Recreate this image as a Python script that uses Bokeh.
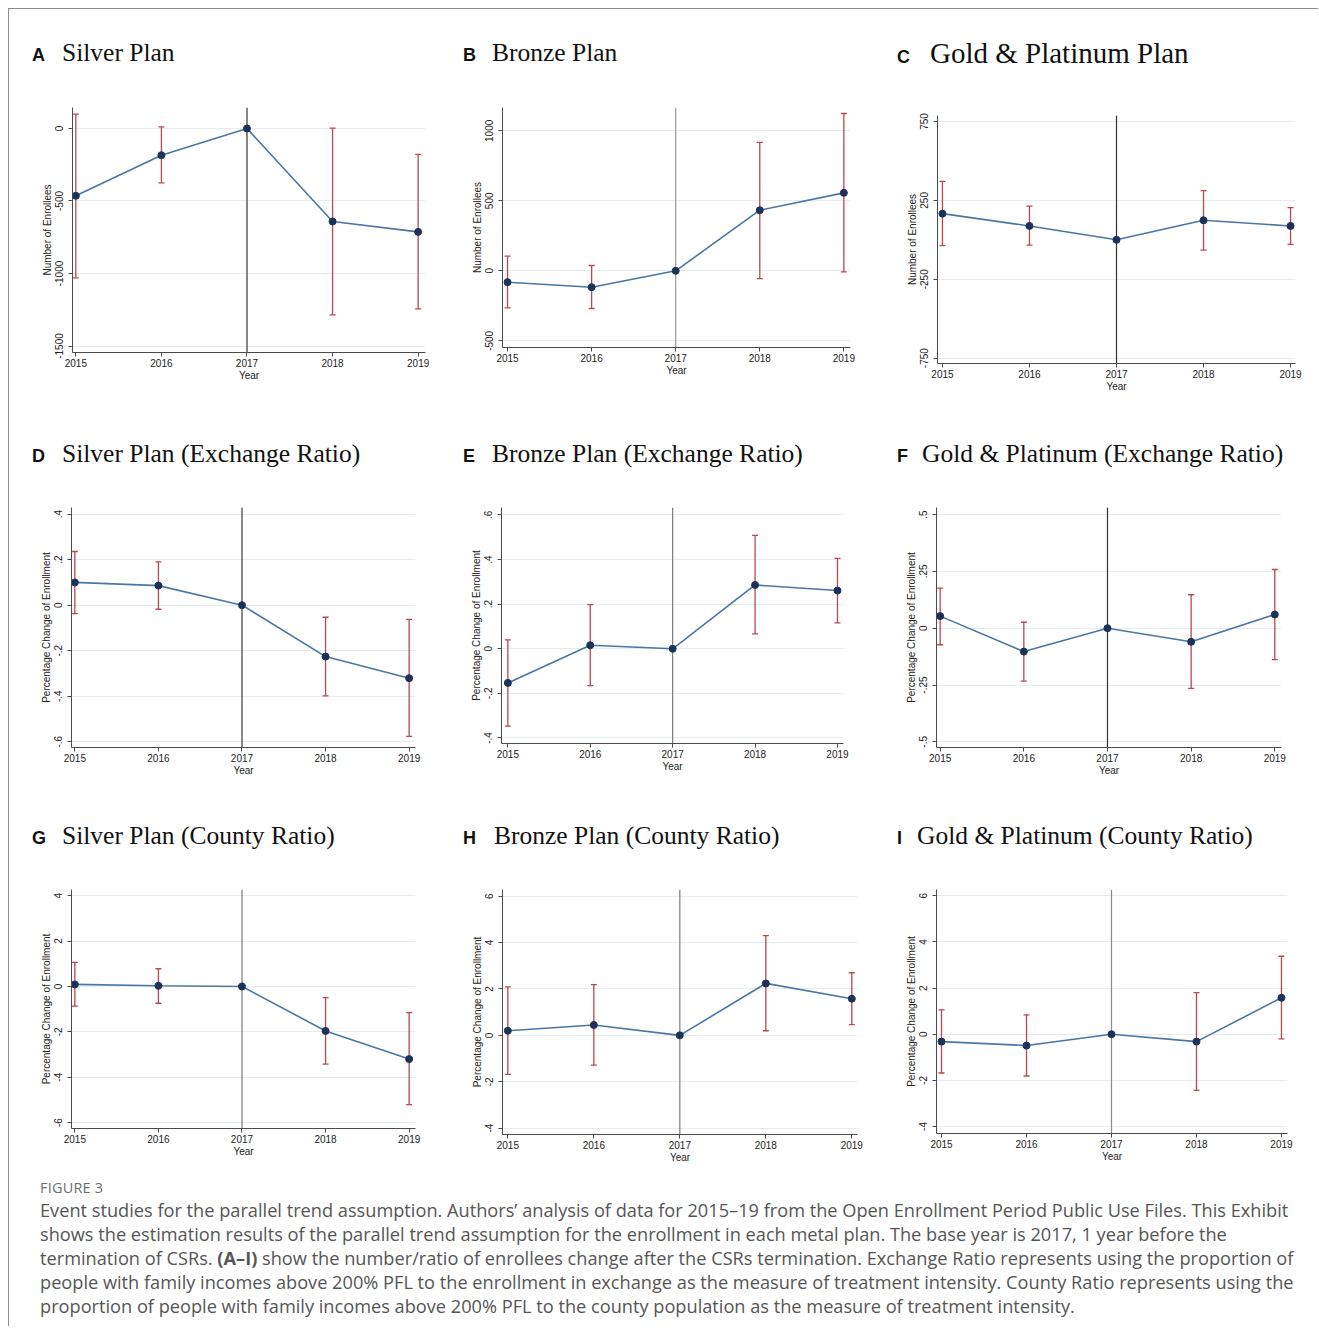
from bokeh.plotting import figure
from bokeh.models import FixedTicker, Span, Div, Range1d
from bokeh.layouts import row, column
from bokeh.embed import file_html
from bokeh.resources import INLINE

# ---------------- data ----------------
years = [2015, 2016, 2017, 2018, 2019]
year_labels = ["2015", "2016", "2017", "2018", "2019"]

a_est = [-464, -184, 0, -641, -713]
a_lo = [-1030, -375, None, -1285, -1244]
a_hi = [99, 11, None, 2, -179]
a_ticks = [-1500, -1000, -500, 0]
a_tick_labels = ["-1500", "-1000", "-500", "0"]

b_est = [-81, -117, 0, 433, 557]
b_lo = [-264, -269, None, -55, -7]
b_hi = [105, 38, None, 917, 1124]
b_ticks = [-500, 0, 500, 1000]
b_tick_labels = ["-500", "0", "500", "1000"]

c_est = [166, 88, 0, 124, 88]
c_lo = [-37, -33, None, -65, -29]
c_hi = [371, 213, None, 312, 204]
c_ticks = [-750, -250, 250, 750]
c_tick_labels = ["-750", "-250", "250", "750"]

d_est = [0.100, 0.086, 0, -0.226, -0.321]
d_lo = [-0.037, -0.018, None, -0.399, -0.577]
d_hi = [0.236, 0.190, None, -0.053, -0.062]
d_ticks = [-0.6, -0.4, -0.2, 0, 0.2, 0.4]
d_tick_labels = ["-.6", "-.4", "-.2", "0", ".2", ".4"]

e_est = [-0.153, 0.016, 0, 0.286, 0.261]
e_lo = [-0.347, -0.165, None, 0.067, 0.116]
e_hi = [0.040, 0.198, None, 0.508, 0.405]
e_ticks = [-0.4, -0.2, 0, 0.2, 0.4, 0.6]
e_tick_labels = ["-.4", "-.2", "0", ".2", ".4", ".6"]

f_est = [0.053, -0.103, 0, -0.060, 0.060]
f_lo = [-0.073, -0.233, None, -0.265, -0.138]
f_hi = [0.176, 0.026, None, 0.147, 0.258]
f_ticks = [-0.5, -0.25, 0, 0.25, 0.5]
f_tick_labels = ["-.5", "-.25", "0", ".25", ".5"]

g_est = [0.09, 0.03, 0, -1.96, -3.20]
g_lo = [-0.87, -0.74, None, -3.42, -5.21]
g_hi = [1.06, 0.78, None, -0.49, -1.15]
g_ticks = [-6, -4, -2, 0, 2, 4]
g_tick_labels = ["-6", "-4", "-2", "0", "2", "4"]

h_est = [0.20, 0.45, 0, 2.24, 1.58]
h_lo = [-1.68, -1.28, None, 0.20, 0.46]
h_hi = [2.09, 2.19, None, 4.30, 2.70]
h_ticks = [-4, -2, 0, 2, 4, 6]
h_tick_labels = ["-4", "-2", "0", "2", "4", "6"]

i_est = [-0.32, -0.49, 0, -0.32, 1.58]
i_lo = [-1.68, -1.81, None, -2.43, -0.20]
i_hi = [1.06, 0.84, None, 1.80, 3.38]
i_ticks = [-4, -2, 0, 2, 4, 6]
i_tick_labels = ["-4", "-2", "0", "2", "4", "6"]

ylab_n = "Number of Enrollees"
ylab_p = "Percentage Change of Enrollment"

# ---------------- styles ----------------
LINE = "#4a76a6"
DOT = "#1b3358"
CI = "#b9484f"
GRID = "#e4eef0"
AXIS = "#4a4a4a"
SANS = "Liberation Sans"

panels = [
    # letter, title, est, lo, hi, ticks, labels, ylabel, xr, yr, (left,right,top,bottom), width, height, vline color
    ("A", "Silver Plan", a_est, a_lo, a_hi, a_ticks, a_tick_labels, ylab_n,
     (2014.961, 2019.086), (-1544.8, 144.8), (63, 21, 16, 49), 437, 310, "#333333"),
    ("B", "Bronze Plan", b_est, b_lo, b_hi, b_ticks, b_tick_labels, ylab_n,
     (2014.940, 2019.079), (-547.6, 1166.7), (56, 33, 16, 54), 437, 310, "#9a9a9a"),
    ("C", "Gold &amp; Platinum Plan", c_est, c_lo, c_hi, c_ticks, c_tick_labels, ylab_n,
     (2014.943, 2019.057), (-783.8, 788.0), (54, 23, 24, 38), 435, 310, "#333333"),
    ("D", "Silver Plan (Exchange Ratio)", d_est, d_lo, d_hi, d_ticks, d_tick_labels, ylab_p,
     (2014.960, 2019.076), (-0.6256, 0.4293), (62, 31, 16, 39), 437, 295, "#3a3a3a"),
    ("E", "Bronze Plan (Exchange Ratio)", e_est, e_lo, e_hi, e_ticks, e_tick_labels, ylab_p,
     (2014.923, 2019.073), (-0.4247, 0.6334), (55, 40, 16, 43), 437, 295, "#7a7a7a"),
    ("F", "Gold &amp; Platinum (Exchange Ratio)", f_est, f_lo, f_hi, f_ticks, f_tick_labels, ylab_p,
     (2014.956, 2019.080), (-0.5249, 0.5308), (53, 37, 16, 39), 435, 295, "#333333"),
    ("G", "Silver Plan (County Ratio)", g_est, g_lo, g_hi, g_ticks, g_tick_labels, ylab_p,
     (2014.960, 2019.076), (-6.259, 4.271), (62, 31, 18, 38), 437, 295, "#7a7a7a"),
    ("H", "Bronze Plan (County Ratio)", h_est, h_lo, h_hi, h_ticks, h_tick_labels, ylab_p,
     (2014.938, 2019.066), (-4.273, 6.288), (56, 26, 18, 32), 437, 295, "#7a7a7a"),
    ("I", "Gold &amp; Platinum (County Ratio)", i_est, i_lo, i_hi, i_ticks, i_tick_labels, ylab_p,
     (2014.941, 2019.071), (-4.304, 6.275), (53, 31, 18, 33), 435, 295, "#8a8a8a"),
]

# title div settings per row / column
title_heights = [82, 90, 85]
title_pad_top = [29, 38, 35]
col_pad_left = [23, 17, 14]
letter_widths = {"A": 30, "B": 29, "C": 33, "D": 30, "E": 29, "F": 25, "G": 30, "H": 31, "I": 20}
title_sizes = {"C": 29}


def make_fig(cfg):
    (letter, title, est, lo, hi, ticks, tlabels, ylabel, xr, yr, borders, w, h, vcol) = cfg
    bl, br, bt, bb = borders
    p = figure(width=w, height=h, output_backend="svg", toolbar_location=None,
               x_range=Range1d(*xr), y_range=Range1d(*yr),
               min_border_left=bl, min_border_right=br, min_border_top=bt, min_border_bottom=bb,
               background_fill_color="white", border_fill_color="white")
    p.outline_line_color = None
    p.xgrid.visible = False
    p.ygrid.ticker = FixedTicker(ticks=ticks)
    p.ygrid.grid_line_color = GRID
    p.ygrid.grid_line_width = 1

    # axes
    p.xaxis.ticker = FixedTicker(ticks=years)
    p.xaxis.major_label_overrides = {y: l for y, l in zip(years, year_labels)}
    p.xaxis.axis_label = "Year"
    p.yaxis.ticker = FixedTicker(ticks=ticks)
    p.yaxis.major_label_overrides = {t: l for t, l in zip(ticks, tlabels)}
    p.yaxis.axis_label = ylabel
    p.yaxis.major_label_orientation = "vertical"
    p.xaxis.major_label_standoff = 2
    p.yaxis.major_label_standoff = 5
    for ax in (p.xaxis, p.yaxis):
        ax.axis_line_color = AXIS
        ax.major_tick_line_color = AXIS
        ax.major_tick_in = 0
        ax.major_tick_out = 4
        ax.minor_tick_line_color = None
        ax.major_label_text_font = SANS
        ax.major_label_text_font_size = "10px"
        ax.major_label_text_color = "#222222"
        ax.axis_label_text_font = SANS
        ax.axis_label_text_font_size = "10px"
        ax.axis_label_text_font_style = "normal"
        ax.axis_label_text_color = "#222222"
        ax.axis_label_standoff = 0

    p.add_layout(Span(location=2017, dimension="height", line_color=vcol,
                      line_width=1.2, level="underlay"))

    cx = [y for y, l in zip(years, lo) if l is not None]
    clo = [l for l in lo if l is not None]
    chi = [u for u in hi if u is not None]
    p.segment(x0=cx, y0=clo, x1=cx, y1=chi, line_color=CI, line_width=1.3)
    p.scatter(cx, clo, marker="dash", size=6, line_color=CI, line_width=1.3)
    p.scatter(cx, chi, marker="dash", size=6, line_color=CI, line_width=1.3)

    p.line(years, est, line_color=LINE, line_width=1.6)
    p.scatter(years, est, size=7, fill_color=DOT, line_color=DOT)
    return p


def make_title(cfg, ri, ci):
    letter, title = cfg[0], cfg[1]
    w = cfg[11]
    fs = title_sizes.get(letter, 25.5)
    html = (
        f'<div style="padding:{title_pad_top[ri]}px 0 0 {col_pad_left[ci]}px; line-height:30px; '
        f'white-space:nowrap; font-family:\'Liberation Serif\', serif; font-size:{fs}px; color:#111111;">'
        f'<span style="display:inline-block; width:{letter_widths[letter]}px; '
        f'font-family:\'Liberation Sans\', sans-serif; font-weight:bold; font-size:18px;">{letter}</span>'
        f'{title}</div>'
    )
    return Div(text=html, width=w, height=title_heights[ri], margin=(0, 0, 0, 0))


rows = []
for ri in range(3):
    cells = []
    for ci in range(3):
        cfg = panels[ri * 3 + ci]
        cells.append(column(make_title(cfg, ri, ci), make_fig(cfg), spacing=0))
    rows.append(row(*cells, spacing=0))

caption_lines = [
    "Event studies for the parallel trend assumption. Authors\u2019 analysis of data for 2015\u201319 from the Open Enrollment Period Public Use Files. This Exhibit",
    "shows the estimation results of the parallel trend assumption for the enrollment in each metal plan. The base year is 2017, 1 year before the",
    "termination of CSRs. <b>(A\u2013I)</b> show the number/ratio of enrollees change after the CSRs termination. Exchange Ratio represents using the proportion of",
    "people with family incomes above 200% PFL to the enrollment in exchange as the measure of treatment intensity. County Ratio represents using the",
    "proportion of people with family incomes above 200% PFL to the county population as the measure of treatment intensity.",
]
caption_html = (
    '<div style="padding:12px 0 0 31px; font-family:\'Open Sans\', sans-serif;">'
    '<div style="font-size:14.5px; line-height:20px; color:#6e6e6e; letter-spacing:0.2px;">FIGURE 3</div>'
    '<div style="font-size:18.2px; line-height:24px; color:#555555; white-space:nowrap;">'
    + "<br>".join(caption_lines) + '</div></div>'
)
caption = Div(text=caption_html, width=1309, height=160, margin=(0, 0, 0, 0))

root = column(*rows, caption, spacing=0, margin=(8, 0, 0, 8),
              styles={"border-top": "1px solid #8c8c8c", "border-left": "1px solid #8c8c8c"})

open("out.html", "w").write(file_html(root, INLINE))
